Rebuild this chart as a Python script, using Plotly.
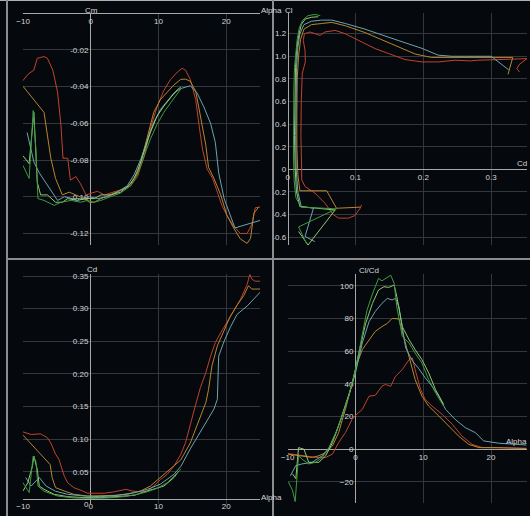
import plotly.graph_objects as go

# ---------------- data ----------------
SERIES = ["red", "orange", "teal", "lgreen", "dgreen"]

# Cm vs Alpha
CM_A_RED = [-10.1, -9.2, -8.4, -7.9, -6.9, -6.4, -5.6, -4.9, -4.4, -4.1, -3.4, -3.0, -2.2, -1.5, -0.7, 0, 1, 2, 2.9, 3.9,
            4.9, 5.9, 6.9, 7.9, 8.8, 9.8, 10.8, 11.8, 12.8, 13.5, 14, 14.7, 15.5, 16, 16.5, 17.2, 18, 18.7, 19.4, 20.1,
            21.1, 22.1, 23.1, 23.8, 24.3, 25]
CM_RED = [-0.037, -0.033, -0.031, -0.0245, -0.0236, -0.0245, -0.031, -0.043, -0.061, -0.079, -0.079, -0.091, -0.089,
          -0.093, -0.099, -0.098, -0.097, -0.099, -0.098, -0.0966, -0.0957, -0.094, -0.089, -0.078, -0.063, -0.051,
          -0.042, -0.036, -0.032, -0.030, -0.031, -0.036, -0.047, -0.061, -0.074, -0.085, -0.090, -0.0975, -0.105,
          -0.110, -0.116, -0.120, -0.120, -0.115, -0.106, -0.1056]
CM_A_ORANGE = [-10, -6.9, -5.9, -5.2, -4.2, -3.2, -2.2, -1, -0.2, 0.5, 1.5, 2.9, 4.4, 5.4, 6.4, 7.4, 8.4, 9.3, 10.3,
               11.3, 12.3, 13.3, 14.0, 14.7, 15.5, 16.2, 17, 17.4, 18.2, 19.2, 20.1, 21.1, 22.1, 23.1, 23.6, 24.1, 24.8]
CM_ORANGE = [-0.0398, -0.054, -0.079, -0.090, -0.099, -0.0975, -0.099, -0.101, -0.103, -0.103, -0.101, -0.099,
             -0.0966, -0.0948, -0.090, -0.081, -0.067, -0.054, -0.047, -0.043, -0.039, -0.036, -0.0359, -0.037,
             -0.0425, -0.056, -0.072, -0.084, -0.090, -0.099, -0.110, -0.117, -0.123, -0.1254, -0.1227, -0.109, -0.1056]
CM_A_TEAL = [-9.4, -8.4, -7.6, -6.4, -4.9, -3.9, -2.7, -1.5, -0.2, 1.0, 2.5, 3.9, 5.4, 6.4, 7.4, 8.4, 9.3, 10.3, 11.3,
             12.3, 13.3, 14, 14.7, 15.7, 16.7, 17.7, 18.4, 18.9, 19.7, 20.6, 21.3, 25.1]
CM_TEAL = [-0.065, -0.081, -0.087, -0.0939, -0.102, -0.100, -0.101, -0.101, -0.100, -0.101, -0.100, -0.0975, -0.094,
           -0.088, -0.0795, -0.0686, -0.0596, -0.0524, -0.048, -0.0434, -0.041, -0.0402, -0.0395, -0.0434, -0.051,
           -0.060, -0.0704, -0.087, -0.101, -0.110, -0.117, -0.1128]
CM_A_LGREEN = [-10, -9.1, -8.4, -7.9, -7.4, -6.4, -5.2, -4.2, -3.4, -2, -0.7, 0.5, 1.5, 2.9, 4.4, 5.9, 6.9, 7.9, 8.8,
               9.8, 10.8, 11.8, 12.8, 13.3]
CM_LGREEN = [-0.0777, -0.082, -0.054, -0.092, -0.099, -0.099, -0.103, -0.103, -0.101, -0.102, -0.101, -0.101, -0.099,
             -0.099, -0.0975, -0.093, -0.0867, -0.0758, -0.065, -0.056, -0.0506, -0.046, -0.0416, -0.0402]
CM_A_DGREEN = [-10, -9.1, -8.6, -8.5, -8.1, -7.8, -6.9, -5.4, -4.4, -2.9, -1.5, -0.5, 0.5, 1.5, 2.9, 4.4, 5.9, 6.9,
               7.9, 8.8, 9.8, 10.8, 11.8, 12.8, 13.3]
CM_DGREEN = [-0.083, -0.090, -0.0596, -0.053, -0.074, -0.101, -0.102, -0.1047, -0.103, -0.102, -0.103, -0.102, -0.103,
             -0.102, -0.100, -0.098, -0.094, -0.0876, -0.0777, -0.0686, -0.0605, -0.054, -0.0488, -0.0434, -0.0413]

# Cl vs Cd (polar)
PO_CD_RED = [0.109, 0.107, 0.099, 0.0895, 0.075, 0.067, 0.055, 0.040, 0.0256, 0.0207, 0.0205, 0.0195, 0.020, 0.0215,
             0.026, 0.0256, 0.023, 0.0246, 0.033, 0.040, 0.0477, 0.055, 0.070, 0.0846, 0.099, 0.114, 0.129, 0.149,
             0.173, 0.198, 0.222, 0.247, 0.27, 0.28, 0.311, 0.33, 0.353, 0.342, 0.338, 0.342]
PO_CL_RED = [-0.315, -0.344, -0.41, -0.432, -0.432, -0.40, -0.30, -0.21, -0.153, -0.094, 0.02, 0.3, 0.6, 0.85, 0.95,
             1.05, 1.14, 1.2, 1.215, 1.2, 1.185, 1.215, 1.229, 1.2, 1.156, 1.112, 1.068, 1.024, 0.971, 0.95, 0.95,
             0.965, 0.959, 0.965, 0.971, 0.979, 0.979, 0.93, 0.89, 0.86]
PO_CD_ORANGE = [0.107, 0.072, 0.0575, 0.018, 0.015, 0.0135, 0.0135, 0.014, 0.016, 0.019, 0.024, 0.035, 0.050, 0.065,
                0.085, 0.114, 0.153, 0.188, 0.212, 0.242, 0.30, 0.328, 0.332, 0.325]
PO_CL_ORANGE = [-0.335, -0.345, -0.19, -0.19, -0.05, 0.2, 0.5, 0.8, 1.0, 1.15, 1.24, 1.28, 1.29, 1.30, 1.27, 1.21,
                1.11, 1.02, 0.99, 0.99, 0.99, 0.994, 0.99, 0.84]
PO_CD_TEAL = [0.040, 0.0256, 0.038, 0.020, 0.015, 0.0125, 0.0118, 0.012, 0.013, 0.015, 0.018, 0.024, 0.035, 0.050,
              0.065, 0.085, 0.114, 0.163, 0.198, 0.222, 0.242, 0.262, 0.30, 0.326]
PO_CL_TEAL = [-0.64, -0.594, -0.344, -0.33, -0.2, 0.0, 0.3, 0.6, 0.9, 1.08, 1.2, 1.28, 1.31, 1.32, 1.32, 1.29, 1.24,
              1.14, 1.07, 1.01, 1.0, 1.0, 1.0, 0.88]
PO_CD_LGREEN = [0.016, 0.030, 0.070, 0.018, 0.013, 0.011, 0.010, 0.0105, 0.0115, 0.013, 0.016, 0.020, 0.026, 0.035,
                0.045]
PO_CL_LGREEN = [-0.55, -0.67, -0.36, -0.33, -0.2, 0.0, 0.3, 0.6, 0.9, 1.05, 1.18, 1.28, 1.33, 1.345, 1.35]
PO_CD_DGREEN = [0.028, 0.016, 0.072, 0.020, 0.012, 0.0095, 0.0085, 0.0085, 0.009, 0.010, 0.012, 0.014, 0.017, 0.022,
                0.030, 0.040, 0.048]
PO_CL_DGREEN = [-0.66, -0.51, -0.35, -0.335, -0.25, -0.1, 0.1, 0.4, 0.7, 0.9, 1.05, 1.15, 1.25, 1.32, 1.36, 1.37,
                1.36]

# Cd vs Alpha
CD_A_RED = [-10, -8.8, -7.4, -6.4, -5.9, -5.2, -4.7, -3.9, -3.4, -2.5, -1.2, -0.5, 0.5, 2, 3.4, 4.4, 5.2, 6.1, 7.4,
            8.4, 9.3, 10.3, 11.3, 12.3, 13.3, 14, 14.7, 15.5, 16.2, 17, 17.7, 18.4, 19.2, 20.1, 21.1, 22.1, 23.1,
            23.5, 23.8, 24.3, 25.2]
CD_RED = [0.111, 0.107, 0.108, 0.102, 0.094, 0.077, 0.069, 0.043, 0.033, 0.0255, 0.0204, 0.017, 0.017, 0.017, 0.019,
          0.0214, 0.023, 0.0204, 0.019, 0.0204, 0.028, 0.038, 0.046, 0.0587, 0.0766, 0.0945, 0.120, 0.153, 0.179,
          0.202, 0.227, 0.248, 0.263, 0.278, 0.296, 0.314, 0.337, 0.3526, 0.345, 0.342, 0.342]
CD_A_ORANGE = [-10, -6, -5.7, -5.2, -3.9, -2.5, -0.5, 1.5, 3.4, 5.4, 7.4, 8.8, 10.3, 11.8, 13.3, 14.7, 16, 17, 17.4,
               17.9, 18.7, 19.7, 20.6, 21.6, 22.6, 23.3, 23.8, 25.2]
CD_ORANGE = [0.106, 0.061, 0.041, 0.0255, 0.0204, 0.0153, 0.0127, 0.0127, 0.0137, 0.0153, 0.0204, 0.028, 0.041,
             0.0536, 0.068, 0.094, 0.130, 0.156, 0.176, 0.212, 0.243, 0.268, 0.288, 0.305, 0.320, 0.335, 0.330, 0.330]
CD_A_TEAL = [-9.6, -8.8, -7.6, -6.6, -5.2, -3.4, -1, 1.5, 3.9, 6.4, 8.4, 10.3, 12.3, 13.3, 14.7, 16.2, 17.2, 18.2,
             18.7, 18.9, 19.7, 20.6, 21.6, 23.1, 25.2]
CD_TEAL = [0.041, 0.028, 0.041, 0.028, 0.020, 0.0153, 0.0127, 0.0117, 0.0137, 0.0178, 0.023, 0.031, 0.046, 0.058,
           0.085, 0.112, 0.128, 0.146, 0.161, 0.227, 0.250, 0.271, 0.291, 0.304, 0.327]
CD_A_LGREEN = [-10, -9.3, -8.6, -8.4, -7.9, -7.6, -6.9, -5.4, -3.4, -1, 1.5, 3.9, 6.4, 7.9, 9.3, 10.8, 12.3, 13.0]
CD_LGREEN = [0.0204, 0.033, 0.059, 0.074, 0.0536, 0.028, 0.023, 0.0153, 0.0117, 0.0102, 0.0102, 0.0117, 0.0137,
             0.019, 0.023, 0.028, 0.041, 0.051]
CD_A_DGREEN = [-10, -9.1, -8.5, -8.1, -7.8, -6.9, -4.9, -2.5, 0, 2.5, 4.9, 6.9, 8.4, 9.8, 11.3, 12.8, 13.3]
CD_DGREEN = [0.033, 0.018, 0.074, 0.066, 0.028, 0.020, 0.0127, 0.0098, 0.0092, 0.0098, 0.0117, 0.0153, 0.0194,
             0.0245, 0.033, 0.048, 0.0536]

# Cl/Cd vs Alpha
LD_A_RED = [-10, -7.4, -5.9, -4.4, -3.4, -2.5, -1.5, -0.5, 0, 1, 2, 2.9, 3.9, 4.4, 5.2, 5.9, 6.9, 7.9, 8.4, 8.8, 9.6,
            10.3, 11.3, 12.8, 14.3, 15.7, 17.2, 18.7, 21.1, 25.2]
LD_RED = [-2.6, -4, -5, -5, -3, 4, 10.1, 18.3, 20.7, 24.3, 32.5, 32.9, 38.5, 39.6, 38.5, 44.6, 48.7, 54.8, 55.8,
          48.7, 36.5, 30.4, 26.4, 21.3, 15.2, 8.1, 3, 1, 1, 0.6]
LD_A_ORANGE = [-10, -8.4, -6.4, -5.4, -4.4, -3.4, -2.5, -1.5, -0.5, 0.25, 1, 2, 2.9, 3.9, 4.7, 5.4, 6.4, 7.1, 7.9,
               8.8, 9.8, 10.8, 12.3, 13.8, 15.2, 16.7, 18.2, 21.1, 25.2]
LD_ORANGE = [-3, -4, -5, -4, -2, 2, 10, 24.3, 40.6, 52.7, 60.9, 67, 72, 75, 77, 80, 79.7, 69, 56.8, 42.6, 32.5, 26.4,
             20.3, 14.2, 8.1, 3, 1, 1, 0.4]
LD_A_TEAL = [-9.6, -8.8, -7.9, -6.4, -4.9, -3.9, -2.9, -2, -1, 0, 1, 2, 2.9, 3.9, 4.7, 5.4, 5.9, 6.4, 7.4, 8.4, 9.3,
             10.3, 11.3, 12.3, 13.3, 14.7, 16.2, 17.7, 18.9, 21.1, 25.2]
LD_TEAL = [-16.2, -10, -9, -8, -4, 1, 10, 20, 32.5, 46.7, 65, 78, 84.2, 89.2, 92.3, 91.3, 92.3, 87.2, 62, 54, 49.5,
           43.6, 38.5, 32.5, 24.3, 18.3, 13.2, 10.1, 5.1, 3.7, 2.6]
LD_A_LGREEN = [-9.3, -8.8, -8.4, -7.6, -6.9, -5.4, -4.4, -3.4, -2.5, -1.5, -0.5, 0.5, 1.5, 2.5, 3.4, 4.2, 4.9, 5.7,
               6.1, 6.9, 7.9, 8.8, 9.8, 10.8, 11.8, 13]
LD_LGREEN = [-15, -18, 1, 0, -8, -8, -4, 4, 14.2, 26.4, 39.6, 58.8, 77, 89.2, 97.4, 99.4, 99, 100.4, 93.3, 75, 67,
             60.9, 54.8, 46.7, 36.5, 27.4]
LD_A_DGREEN = [-9.9, -9.3, -8.9, -8.4, -7.9, -6.9, -5.9, -4.9, -3.9, -2.9, -2, -1, 0, 1, 1.7, 2.5, 3.4, 3.9, 4.7,
               5.2, 5.7, 6.1, 6.9, 7.9, 8.8, 9.8, 10.8, 11.8, 13]
LD_DGREEN = [-20, -25, -32, -4, -6, -9, -8, -5, 1, 10, 20, 32.5, 48.7, 69, 85, 95, 104.5, 103, 105, 106.5, 101.4, 87,
             69, 65, 58.8, 52.7, 42.6, 34.5, 26.4]

# tick labels
ALPHA_TICKS = [-10, 0, 10, 20]
CM_TICKS = [-0.02, -0.04, -0.06, -0.08, -0.10, -0.12]
CM_TICKTEXT = ["-0.02", "-0.04", "-0.06", "-0.08", "-0.10", "-0.12"]
CDX_TICKS = [0, 0.1, 0.2, 0.3]
CDX_TICKTEXT = ["0", "0.1", "0.2", "0.3"]
CL_TICKS = [1.2, 1.0, 0.8, 0.6, 0.4, 0.2, 0, -0.2, -0.4, -0.6]
CL_TICKTEXT = ["1.2", "1.0", "0.8", "0.6", "0.4", "0.2", "0", "-0.2", "-0.4", "-0.6"]
CD_TICKS = [0.35, 0.30, 0.25, 0.20, 0.15, 0.10, 0.05, 0]
CD_TICKTEXT = ["0.35", "0.30", "0.25", "0.20", "0.15", "0.10", "0.05", "0"]
LD_TICKS = [100, 80, 60, 40, 20, 0, -20]

# ---------------- styling / layout ----------------
W, H = 530, 516
BG = "#05090e"
GRID = "#34383d"
AXLINE = "#a8a8a8"
TXT = "#d6d6d6"
FONT = "Liberation Sans"
COL = {"red": "#c2432c", "orange": "#b7862e", "teal": "#6fa3ad", "lgreen": "#93c873", "dgreen": "#3f9a40"}


def fx(p):
    return p / W


def fy(p):
    return 1 - p / H


fig = go.Figure()

panels = [
    ("x", "y", {"red": (CM_A_RED, CM_RED), "orange": (CM_A_ORANGE, CM_ORANGE), "teal": (CM_A_TEAL, CM_TEAL),
                "lgreen": (CM_A_LGREEN, CM_LGREEN), "dgreen": (CM_A_DGREEN, CM_DGREEN)}),
    ("x2", "y2", {"red": (PO_CD_RED, PO_CL_RED), "orange": (PO_CD_ORANGE, PO_CL_ORANGE),
                  "teal": (PO_CD_TEAL, PO_CL_TEAL), "lgreen": (PO_CD_LGREEN, PO_CL_LGREEN),
                  "dgreen": (PO_CD_DGREEN, PO_CL_DGREEN)}),
    ("x3", "y3", {"red": (CD_A_RED, CD_RED), "orange": (CD_A_ORANGE, CD_ORANGE), "teal": (CD_A_TEAL, CD_TEAL),
                  "lgreen": (CD_A_LGREEN, CD_LGREEN), "dgreen": (CD_A_DGREEN, CD_DGREEN)}),
    ("x4", "y4", {"red": (LD_A_RED, LD_RED), "orange": (LD_A_ORANGE, LD_ORANGE), "teal": (LD_A_TEAL, LD_TEAL),
                  "lgreen": (LD_A_LGREEN, LD_LGREEN), "dgreen": (LD_A_DGREEN, LD_DGREEN)}),
]

for xa, ya, data in panels:
    for s in SERIES:
        xs, ys = data[s]
        fig.add_trace(go.Scatter(x=xs, y=ys, xaxis=xa, yaxis=ya, mode="lines",
                                 line=dict(color=COL[s], width=1), hoverinfo="skip", showlegend=False))

common = dict(showgrid=True, gridcolor=GRID, gridwidth=1, zeroline=False, showline=True, linecolor=AXLINE,
              linewidth=1, ticks="", tickfont=dict(family=FONT, size=8, color=TXT), anchor="free",
              fixedrange=True, automargin=False, layer="below traces")

fig.update_layout(
    width=W, height=H, margin=dict(l=0, r=0, t=0, b=0),
    paper_bgcolor=BG, plot_bgcolor=BG, showlegend=False,
    # top-left: Cm vs Alpha
    xaxis=dict(common, domain=[fx(22.7), fx(260)], range=[-10.05, 25], position=fy(13.3), side="bottom",
               tickmode="array", tickvals=ALPHA_TICKS),
    yaxis=dict(common, domain=[fy(245), fy(13.3)], range=[-0.1263, 0], position=fx(90), side="left",
               tickmode="array", tickvals=CM_TICKS, ticktext=CM_TICKTEXT),
    # top-right: Cl vs Cd
    xaxis2=dict(common, domain=[fx(287.7), fx(527)], range=[0, 0.353], position=fy(169.3), side="bottom",
                tickmode="array", tickvals=CDX_TICKS, ticktext=CDX_TICKTEXT),
    yaxis2=dict(common, domain=[fy(245), fy(13)], range=[-0.670, 1.383], position=fx(287.7), side="left",
                tickmode="array", tickvals=CL_TICKS, ticktext=CL_TICKTEXT),
    # bottom-left: Cd vs Alpha
    xaxis3=dict(common, domain=[fx(22.7), fx(260)], range=[-10.05, 25], position=fy(498.7), side="bottom",
                tickmode="array", tickvals=ALPHA_TICKS),
    yaxis3=dict(common, domain=[fy(504.3), fy(274.3)], range=[0, 0.3526], position=fx(90), side="left",
                tickmode="array", tickvals=CD_TICKS, ticktext=CD_TICKTEXT),
    # bottom-right: Cl/Cd vs Alpha
    xaxis4=dict(common, domain=[fx(287.7), fx(527)], range=[-10, 25.3], position=fy(449.3), side="bottom",
                tickmode="array", tickvals=ALPHA_TICKS),
    yaxis4=dict(common, domain=[fy(502.7), fy(274.3)], range=[-32.7, 107], position=fx(355), side="left",
                tickmode="array", tickvals=LD_TICKS),
)

# panel frame lines
frame = "#8c8c8c"
fig.add_shape(type="line", xref="paper", yref="paper", x0=0, x1=1, y0=fy(0.5), y1=fy(0.5),
              line=dict(color="#b0b0b0", width=1))
fig.add_shape(type="line", xref="paper", yref="paper", x0=fx(7), x1=fx(7), y0=0, y1=1,
              line=dict(color=frame, width=2))
fig.add_shape(type="line", xref="paper", yref="paper", x0=fx(273), x1=fx(273), y0=0, y1=1,
              line=dict(color=frame, width=2))
fig.add_shape(type="line", xref="paper", yref="paper", x0=fx(7), x1=1, y0=fy(259), y1=fy(259),
              line=dict(color=frame, width=2))

# axis names
labels = [
    ("Cm", 91, 10, "center"), ("Alpha", 259, 10, "left"),
    ("Cl", 289, 10, "center"), ("Cd", 529, 163, "right"),
    ("Cd", 92, 269, "center"), ("Alpha", 259, 497, "left"),
    ("Cl/Cd", 357, 270, "left"), ("Alpha", 529, 441, "right"),
]
for t, x, y, al in labels:
    fig.add_annotation(text=t, x=fx(x), y=fy(y), xref="paper", yref="paper", xanchor=al, yanchor="middle",
                       showarrow=False, font=dict(family=FONT, size=8, color=TXT))

fig.write_html("out.html")
